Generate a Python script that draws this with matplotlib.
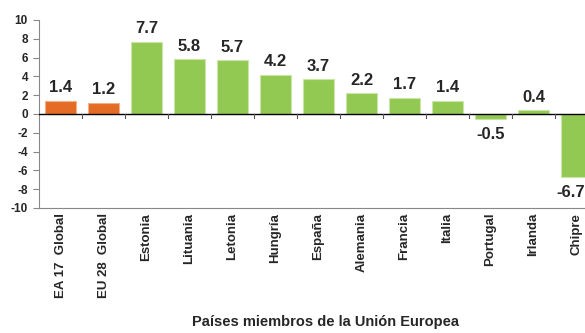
import matplotlib
matplotlib.use("Agg")
import matplotlib.pyplot as plt
import numpy as np

# datos por país
paises = ['EA 17  Global', 'EU 28  Global', 'Estonia', 'Lituania', 'Letonia',
          'Hungría', 'España', 'Alemania', 'Francia', 'Italia', 'Portugal',
          'Irlanda', 'Chipre']
valores = [1.4, 1.2, 7.7, 5.8, 5.7, 4.2, 3.7, 2.2, 1.7, 1.4, -0.5, 0.4, -6.7]
y_ticks = [10, 8, 6, 4, 2, 0, -2, -4, -6, -8, -10]

naranja, verde = '#E46C24', '#92C953'
colores = [naranja, naranja] + [verde] * (len(paises) - 2)
bordes = ['#F2B08A', '#F2B08A'] + ['#C9E6A8'] * (len(paises) - 2)

plt.rcParams['font.family'] = ['Liberation Sans', 'DejaVu Sans']
fig = plt.figure(figsize=(5.85, 3.33), dpi=100)
ax = fig.add_axes([0.0667, 0.3754, 0.9556, 0.5646])

x = np.arange(len(paises))
ax.bar(x, valores, width=0.72, color=colores, edgecolor=bordes, linewidth=0.8, zorder=2)
ax.axhline(0, color='black', linewidth=1.0, zorder=3)

for xi, v in zip(x, valores):
    # la última barra queda en el borde: su etiqueta se alinea a la derecha
    ultima = xi == x[-1]
    xt = xi + 0.19 if ultima else xi
    ha = 'right' if ultima else 'center'
    if v >= 0:
        ax.text(xt, v + 0.6, f'{v:.1f}', ha=ha, va='bottom',
                fontsize=12, fontweight='bold', color='#262626')
    else:
        ax.text(xt, v - 0.9, f'{v:.1f}', ha=ha, va='top',
                fontsize=12, fontweight='bold', color='#262626')

ax.set_xlim(-0.5, len(paises) - 0.5)
ax.set_ylim(-10, 10)
ax.set_yticks(y_ticks)
ax.set_yticklabels([str(t) for t in y_ticks], fontsize=8.5, fontweight='bold', color='#262626')
ax.tick_params(axis='y', length=4, width=0.8, color='#888888', pad=4)

# ticks de separación sobre la línea cero
ax.set_xticks(x)
ax.set_xticklabels(paises, rotation=90, fontsize=9.5, fontweight='bold', color='#262626',
                   va='top')
ax.tick_params(axis='x', length=0, pad=3.5)
for b in x[:-1] + 0.5:
    ax.plot([b, b], [0, -0.4], color='#555555', linewidth=0.8, zorder=3, clip_on=False)

for s in ['top', 'right']:
    ax.spines[s].set_visible(False)
for s in ['left', 'bottom']:
    ax.spines[s].set_color('#888888')
    ax.spines[s].set_linewidth(0.8)

fig.text(0.557, 0.033, 'Países miembros de la Unión Europea', ha='center', va='center',
         fontsize=10.5, fontweight='bold', color='#262626')

fig.savefig('out.png', dpi=100)
